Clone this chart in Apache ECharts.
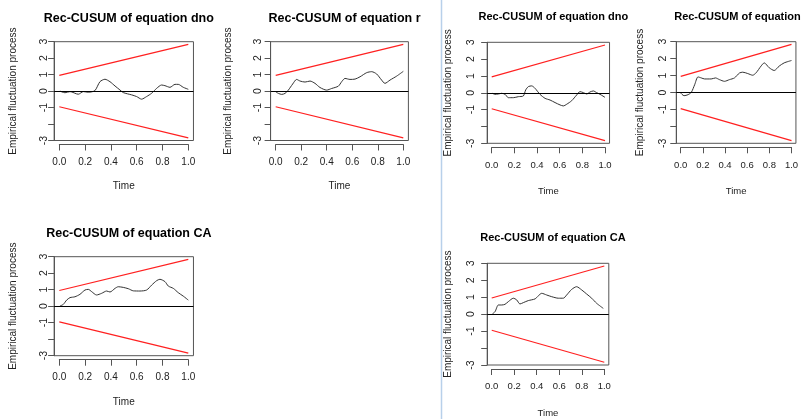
<!DOCTYPE html>
<html>
<head>
<meta charset="utf-8">
<script src="https://cdn.jsdelivr.net/npm/echarts@6/dist/echarts.min.js"></script>
<style>
  html, body { margin: 0; padding: 0; background: #fff; }
  #chart { width: 804px; height: 419px; }
</style>
</head>
<body>
<div id="chart"></div>
<script>
// Time axis tick labels and y ticks (the -2 tick carries no label)
const timeTicks = [0, 0.2, 0.4, 0.6, 0.8, 1.0];
const yTickLabels = { '-3': '-3', '-2': '', '-1': '-1', '0': '0', '1': '1', '2': '2', '3': '3' };

// Rec-CUSUM 5% boundaries: straight lines from t = 0 to t = 1
const boundTime = [0, 1];
const upperBound = [0.95, 2.84];
const lowerBound = [-0.95, -2.84];

// Panel titles
const titles = [
  'Rec-CUSUM of equation dno',
  'Rec-CUSUM of equation r',
  'Rec-CUSUM of equation CA',
  'Rec-CUSUM of equation dno',
  'Rec-CUSUM of equation r',
  'Rec-CUSUM of equation CA'
];

// Empirical fluctuation processes (time, value)
const dnoATime = [0.005, 0.044, 0.083, 0.147, 0.186, 0.225, 0.276, 0.315, 0.354, 0.393, 0.432, 0.470, 0.496, 0.561, 0.599, 0.638, 0.677, 0.716, 0.755, 0.793, 0.819, 0.858, 0.897, 0.922, 0.961, 1.0];
const dnoAValue = [0, -0.1, -0.03, -0.19, -0.03, -0.07, 0.03, 0.57, 0.72, 0.57, 0.31, 0.07, -0.09, -0.23, -0.33, -0.49, -0.33, -0.13, 0.17, 0.37, 0.33, 0.23, 0.41, 0.41, 0.23, 0.11];

const rATime = [0, 0.021, 0.047, 0.073, 0.099, 0.133, 0.164, 0.191, 0.23, 0.269, 0.308, 0.347, 0.399, 0.439, 0.491, 0.517, 0.543, 0.582, 0.622, 0.661, 0.713, 0.752, 0.791, 0.83, 0.856, 0.896, 0.948, 1.0];
const rAValue = [-0.04, -0.14, -0.2, -0.14, 0.06, 0.43, 0.71, 0.61, 0.55, 0.61, 0.47, 0.22, 0.06, 0.16, 0.3, 0.57, 0.77, 0.71, 0.73, 0.87, 1.12, 1.18, 1.04, 0.67, 0.47, 0.67, 0.91, 1.2];

const caATime = [0.005, 0.031, 0.057, 0.083, 0.121, 0.16, 0.199, 0.225, 0.251, 0.289, 0.328, 0.367, 0.393, 0.432, 0.457, 0.496, 0.535, 0.574, 0.625, 0.677, 0.716, 0.755, 0.78, 0.819, 0.845, 0.884, 0.922, 0.961, 1.0];
const caAValue = [0.01, 0.11, 0.37, 0.52, 0.57, 0.72, 0.98, 1.02, 0.88, 0.68, 0.78, 0.92, 0.86, 1.08, 1.18, 1.14, 1.06, 0.93, 0.92, 0.98, 1.28, 1.55, 1.63, 1.49, 1.22, 1.08, 0.82, 0.61, 0.37];

const dnoBTime = [0.006, 0.029, 0.059, 0.088, 0.118, 0.147, 0.191, 0.235, 0.279, 0.3, 0.324, 0.353, 0.382, 0.426, 0.471, 0.515, 0.559, 0.603, 0.632, 0.662, 0.706, 0.75, 0.779, 0.809, 0.838, 0.868, 0.897, 0.926, 0.956, 1.0];
const dnoBValue = [-0.03, -0.09, -0.07, -0.03, -0.09, -0.29, -0.29, -0.23, -0.19, 0.17, 0.37, 0.41, 0.27, -0.09, -0.33, -0.43, -0.58, -0.72, -0.78, -0.68, -0.47, -0.13, 0.07, 0.01, -0.07, 0.05, 0.11, 0.01, -0.09, -0.27];

const rBTime = [0, 0.03, 0.066, 0.096, 0.126, 0.156, 0.186, 0.216, 0.275, 0.314, 0.35, 0.395, 0.44, 0.485, 0.53, 0.56, 0.605, 0.65, 0.68, 0.725, 0.754, 0.799, 0.844, 0.889, 0.934, 1.0];
const rBValue = [-0.03, -0.19, -0.13, 0.01, 0.46, 0.92, 0.86, 0.8, 0.8, 0.86, 0.76, 0.66, 0.76, 0.86, 1.15, 1.2, 1.12, 1.02, 1.16, 1.56, 1.75, 1.46, 1.3, 1.56, 1.75, 1.89];

const caBTime = [0.006, 0.03, 0.059, 0.089, 0.118, 0.148, 0.192, 0.222, 0.251, 0.281, 0.325, 0.385, 0.414, 0.444, 0.488, 0.533, 0.592, 0.636, 0.666, 0.71, 0.754, 0.799, 0.843, 0.888, 0.932, 0.991];
const caBValue = [0.01, 0.15, 0.54, 0.54, 0.58, 0.74, 0.94, 0.84, 0.6, 0.68, 0.8, 0.9, 1.08, 1.23, 1.13, 1.03, 0.94, 0.94, 1.13, 1.46, 1.62, 1.43, 1.19, 0.94, 0.64, 0.34];

const processTimes = [dnoATime, rATime, caATime, dnoBTime, rBTime, caBTime];
const processValues = [dnoAValue, rAValue, caAValue, dnoBValue, rBValue, caBValue];

// Panel geometry: pixel position of t = 0 and t = 1, plot box top/bottom
const panels = [
  { t0: 59.3,  t1: 188.3, top: 41.7,  bottom: 140.5, narrow: false, titleY: 7,   labelMargin: 5,  yNameGap: 36, xLabelMargin: 13, xNameGap: 37 },
  { t0: 275.7, t1: 403.3, top: 41.7,  bottom: 140.5, narrow: false, titleY: 7,   labelMargin: 7,  yNameGap: 37, xLabelMargin: 13, xNameGap: 37 },
  { t0: 59.3,  t1: 188.3, top: 256.7, bottom: 355.7, narrow: false, titleY: 222, labelMargin: 5,  yNameGap: 36, xLabelMargin: 13, xNameGap: 38 },
  { t0: 491.7, t1: 605.0, top: 42.3,  bottom: 143.3, narrow: true,  titleY: 6,   labelMargin: 11, yNameGap: 34, xLabelMargin: 13, xNameGap: 39 },
  { t0: 680.7, t1: 791.5, top: 41.7,  bottom: 143.3, narrow: true,  titleY: 6,   labelMargin: 8,  yNameGap: 31, xLabelMargin: 13, xNameGap: 39 },
  { t0: 491.7, t1: 604.3, top: 263.3, bottom: 365.0, narrow: true,  titleY: 227, labelMargin: 11, yNameGap: 34, xLabelMargin: 12, xNameGap: 39 }
];

const EXT = 0.04;
const regular = "'Liberation Sans', Arial, sans-serif";
const boxColor = '#555';
const textColor = '#222';

const grid = [], xAxis = [], yAxis = [], series = [], title = [];

panels.forEach((p, i) => {
  const span = p.t1 - p.t0;
  const boxLeft = p.t0 - EXT * span;
  const boxWidth = (1 + 2 * EXT) * span;
  const height = p.bottom - p.top;
  const hSize = p.narrow ? 9.5 : 10;

  // plot box
  grid.push({ left: boxLeft, top: p.top, width: boxWidth, height: height,
    show: true, borderColor: boxColor, borderWidth: 1, backgroundColor: 'transparent' });
  // tick frame spanning t = 0 .. 1
  grid.push({ left: p.t0, top: p.top, width: span, height: height, show: false });

  xAxis.push({ gridIndex: 2 * i, type: 'value', min: -EXT, max: 1 + EXT, show: false });
  xAxis.push({
    gridIndex: 2 * i + 1, type: 'value', min: 0, max: 1, interval: 0.2,
    position: 'bottom', offset: 4,
    axisLine: { show: true, onZero: false, lineStyle: { color: boxColor, width: 1 } },
    axisTick: { show: true, length: 6, lineStyle: { color: boxColor } },
    splitLine: { show: false },
    axisLabel: { margin: p.xLabelMargin, color: textColor, fontFamily: regular, fontSize: hSize,
      formatter: v => timeTicks.indexOf(Math.round(v * 10) / 10) >= 0 ? v.toFixed(1) : '' },
    name: 'Time', nameLocation: 'middle', nameGap: p.xNameGap,
    nameTextStyle: { color: textColor, fontFamily: regular, fontSize: hSize }
  });

  yAxis.push({
    gridIndex: 2 * i, type: 'value', min: -3, max: 3, interval: 1,
    axisLine: { show: true, onZero: false, lineStyle: { color: boxColor, width: 1 } },
    axisTick: { show: true, length: 6, lineStyle: { color: boxColor } },
    splitLine: { show: false },
    axisLabel: { rotate: 90, margin: p.labelMargin, color: textColor, fontFamily: regular, fontSize: 10.5,
      formatter: v => yTickLabels[String(v)] },
    name: 'Empirical fluctuation process', nameLocation: 'middle', nameGap: p.yNameGap,
    nameTextStyle: { color: textColor, fontFamily: regular, fontSize: 10 }
  });
  yAxis.push({ gridIndex: 2 * i + 1, type: 'value', min: -3, max: 3, show: false });

  title.push({
    text: titles[i], left: boxLeft + boxWidth / 2, top: p.titleY, textAlign: 'center',
    textStyle: { color: '#000', fontWeight: 'bold', fontFamily: regular, fontSize: p.narrow ? 11 : 12.5 }
  });

  series.push({
    type: 'line', xAxisIndex: 2 * i, yAxisIndex: 2 * i, showSymbol: false, silent: true,
    data: boundTime.map((t, k) => [t, upperBound[k]]),
    lineStyle: { color: '#ff2020', width: 1.2 }
  });
  series.push({
    type: 'line', xAxisIndex: 2 * i, yAxisIndex: 2 * i, showSymbol: false, silent: true,
    data: boundTime.map((t, k) => [t, lowerBound[k]]),
    lineStyle: { color: '#ff2020', width: 1.2 }
  });
  series.push({
    type: 'line', xAxisIndex: 2 * i, yAxisIndex: 2 * i, showSymbol: false, silent: true,
    smooth: 0.25,
    data: processTimes[i].map((t, k) => [t, processValues[i][k]]),
    lineStyle: { color: '#333', width: 1 },
    markLine: {
      silent: true, symbol: ['none', 'none'], label: { show: false },
      lineStyle: { color: '#000', type: 'solid', width: 1 },
      data: [{ yAxis: 0 }]
    }
  });
});

const chart = echarts.init(document.getElementById('chart'), null, { renderer: 'canvas' });
chart.setOption({
  animation: false,
  backgroundColor: '#fff',
  title: title,
  grid: grid,
  xAxis: xAxis,
  yAxis: yAxis,
  series: series,
  graphic: [{
    type: 'line', silent: true,
    shape: { x1: 441.5, y1: 0, x2: 441.5, y2: 419 },
    style: { stroke: '#b8d0ea', lineWidth: 1.5 }
  }]
});
</script>
</body>
</html>
